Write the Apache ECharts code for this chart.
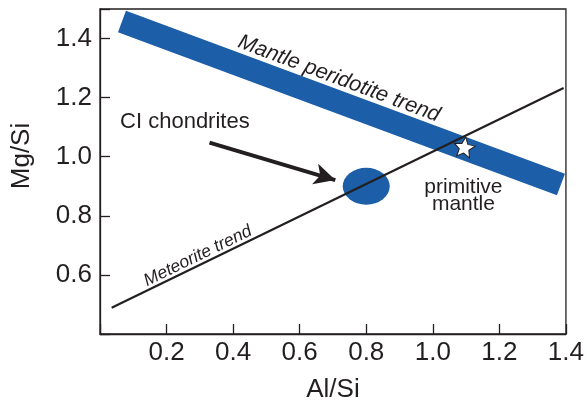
<!DOCTYPE html>
<html>
<head>
<meta charset="utf-8">
<script src="https://cdn.jsdelivr.net/npm/echarts@6/dist/echarts.min.js"></script>
<style>
  html, body { margin: 0; padding: 0; background: #fff; }
  #chart { width: 587px; height: 408px; }
</style>
</head>
<body>
<div id="chart"></div>
<script>
// Axis ticks (Al/Si on x, Mg/Si on y)
const xTickLabels = ['0.2', '0.4', '0.6', '0.8', '1.0', '1.2', '1.4'];
const yTickLabels = ['0.6', '0.8', '1.0', '1.2', '1.4'];

// Mantle peridotite trend: end points of the band [Al/Si, Mg/Si]
const peridotiteTrend = [[0.066, 1.458], [1.385, 0.906]];
// Meteorite trend line
const meteoriteTrend = [[0.035, 0.489], [1.393, 1.233]];
// CI chondrites composition
const ciChondrites = [[0.8, 0.9]];
// Primitive mantle composition
const primitiveMantle = [[1.095, 1.033]];
// Arrow pointing from the label to the CI chondrites field
const arrowFrom = [0.329, 1.048];
const arrowTo = [0.707, 0.921];

// Annotation texts and where they sit in data space
const noteTexts = ['CI chondrites', 'Mantle peridotite trend', 'Meteorite trend', 'primitive\nmantle'];
const notePoints = [[0.255, 1.118], [0.718, 1.264], [0.294, 0.664], [1.092, 0.868]];

const ink = '#231f20';
const blue = '#1c5ea8';
const font = '"Liberation Sans", Arial, Helvetica, sans-serif';

const starPath = 'path://M50,0 L63.52,31.39 L97.55,34.55 L71.88,57.11 L79.39,90.45 L50,73 L20.61,90.45 L28.12,57.11 L2.45,34.55 L36.48,31.39 Z';

const noteStyles = [
  { fontSize: 22, rotate: 0 },
  { fontSize: 21.5, rotate: -20.5, fontStyle: 'italic' },
  { fontSize: 17.5, rotate: 26, fontStyle: 'italic' },
  { fontSize: 21, rotate: 0, lineHeight: 17 }
];

const chart = echarts.init(document.getElementById('chart'), null, { renderer: 'canvas' });

chart.setOption({
  animation: false,
  textStyle: { fontFamily: font },
  grid: {
    left: 100, top: 9, width: 468, height: 330,
    show: true, borderColor: ink, borderWidth: 1.3, backgroundColor: '#fff'
  },
  xAxis: {
    type: 'value', min: 0, max: 1.4, interval: 0.2,
    axisLine: { show: true, lineStyle: { color: ink, width: 1.3 } },
    axisTick: { show: true, inside: true, length: 10, lineStyle: { color: ink, width: 1.3 } },
    splitLine: { show: false },
    axisLabel: {
      fontSize: 26, color: ink, fontFamily: font, margin: 6,
      formatter: v => xTickLabels.includes(v.toFixed(1)) ? v.toFixed(1) : ''
    },
    name: 'Al/Si', nameLocation: 'middle', nameGap: 43,
    nameTextStyle: { fontSize: 26, color: ink, fontFamily: font }
  },
  yAxis: {
    type: 'value', min: 0.4, max: 1.5, interval: 0.2,
    axisLine: { show: true, lineStyle: { color: ink, width: 1.3 } },
    axisTick: { show: true, inside: true, length: 10, lineStyle: { color: ink, width: 1.3 } },
    splitLine: { show: false },
    axisLabel: {
      fontSize: 26, color: ink, fontFamily: font, margin: 8,
      formatter: v => yTickLabels.includes(v.toFixed(1)) ? v.toFixed(1) : ''
    }
  },
  graphic: [{
    type: 'text', x: 22, y: 156, rotation: Math.PI / 2,
    style: { text: 'Mg/Si', fontSize: 26, fill: ink, fontFamily: font, align: 'center', verticalAlign: 'middle' }
  }],
  series: [
    {
      name: 'Mantle peridotite trend', type: 'line', data: peridotiteTrend,
      symbol: 'none', silent: true, z: 2,
      lineStyle: { color: blue, width: 23, cap: 'butt', opacity: 1 }
    },
    {
      name: 'CI chondrites', type: 'scatter', data: ciChondrites,
      symbol: 'circle', symbolSize: [47, 37], silent: true, z: 3,
      itemStyle: { color: blue, opacity: 1 }
    },
    {
      name: 'Meteorite trend', type: 'line', data: meteoriteTrend,
      symbol: 'none', silent: true, z: 4,
      lineStyle: { color: ink, width: 2.2 },
      markLine: {
        silent: true, animation: false,
        symbol: ['none', 'arrow'], symbolSize: [16, 21],
        lineStyle: { color: ink, width: 4, type: 'solid', opacity: 1 },
        label: { show: false },
        data: [[{ coord: arrowFrom }, { coord: arrowTo }]]
      }
    },
    {
      name: 'primitive mantle', type: 'scatter', data: primitiveMantle,
      symbol: starPath, symbolSize: 21, symbolRotate: -8, symbolKeepAspect: true,
      silent: true, z: 6,
      itemStyle: { color: '#fff', borderColor: ink, borderWidth: 1, opacity: 1 }
    },
    {
      name: 'notes', type: 'scatter', silent: true, z: 7,
      symbolSize: 0,
      itemStyle: { opacity: 1 },
      data: notePoints.map((p, i) => ({
        value: p,
        label: Object.assign({
          show: true, position: 'inside', formatter: noteTexts[i],
          color: ink, fontFamily: font, align: 'center', verticalAlign: 'middle'
        }, noteStyles[i])
      }))
    }
  ]
});
</script>
</body>
</html>
